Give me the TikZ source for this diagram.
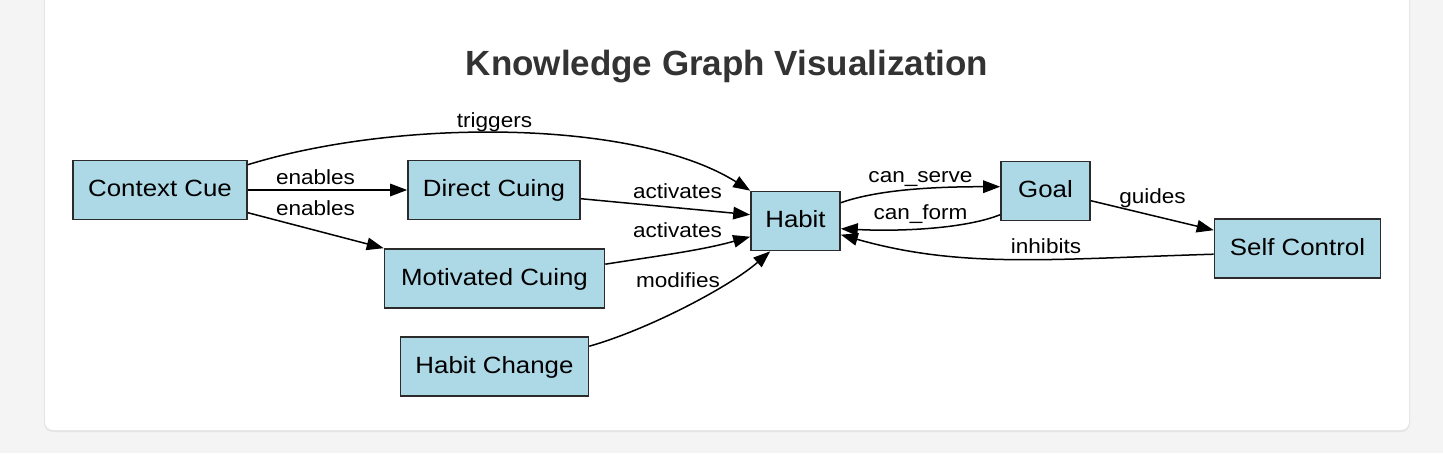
\documentclass[tikz,border=0pt]{standalone}
\usepackage{fontspec}
\setmainfont{Liberation Sans}
\newfontfamily\gfont[FakeStretch=1.1]{Liberation Sans}
\usetikzlibrary{arrows.meta,calc}
\definecolor{pagebg}{HTML}{F4F4F4}
\definecolor{shadowc}{HTML}{E4E4E4}
\definecolor{nodefill}{HTML}{ADD8E6}
\definecolor{nodeline}{HTML}{2B2B2B}
\definecolor{titlec}{HTML}{333333}
\begin{document}
\begin{tikzpicture}[x=1pt,y=-1pt,
  box/.style={draw=nodeline,fill=nodefill,line width=1.6pt,minimum height=59pt,inner sep=0pt,
    text height=16pt,text depth=3pt,font=\gfont\fontsize{23.5}{28}\selectfont},
  edge/.style={draw=black,line width=1.5pt,-{Triangle[length=17pt,width=12.5pt]}},
  elabel/.style={anchor=base,inner sep=0pt,font=\gfont\fontsize{20.5}{24}\selectfont}]
\useasboundingbox (0,0) rectangle (1443,453);
\fill[pagebg] (0,0) rectangle (1443,453);
\fill[shadowc,rounded corners=9pt] (44,-12) rectangle (1410,432);
\fill[white,rounded corners=8pt] (45,-12) rectangle (1409,430);
\node[anchor=base,text=titlec,font=\fontsize{35}{40}\selectfont\bfseries] (title) at (727,75) {Knowledge Graph Visualization};
% nodes
\node[box,minimum width=174pt] (cc) at (160,190) {Context Cue};
\node[box,minimum width=172pt] (dc) at (494,190) {Direct Cuing};
\node[box,minimum width=220pt] (mc) at (494.5,278.5) {Motivated Cuing};
\node[box,minimum width=188pt] (hc) at (494.5,366.5) {Habit Change};
\node[box,minimum width=89pt] (hb) at (795.5,221) {Habit};
\node[box,minimum width=89pt] (gl) at (1045.5,191) {Goal};
\node[box,minimum width=166pt] (sc) at (1297.5,248.5) {Self Control};
% edges
\draw[edge] (cc.east) -- (dc.west);
\draw[edge] ($(cc.north east)+(0,53)$) -- (mc.north west);
\draw[edge] ($(cc.north east)+(0,5)$) .. controls +(153,-47) and +(-113,-71) .. (hb.north west);
\draw[edge] ($(dc.north east)+(0,39)$) -- ($(hb.north west)+(0,24)$);
\draw[edge] ($(mc.north east)+(0,16)$) .. controls +(50,-8) and +(-50,14) .. ($(hb.north west)+(0,46)$);
\draw[edge] ($(hc.north east)+(0,10)$) .. controls +(60,-17) and +(-40,35) .. ($(hb.south west)+(20,0)$);
\draw[edge] ($(hb.north east)+(0,12)$) .. controls +(40,-14) and +(-60,0) .. ($(gl.north west)+(0,26)$);
\draw[edge] ($(gl.north west)+(0,54)$) .. controls +(-35,14) and +(60,3) .. ($(hb.north east)+(0,38)$);
\draw[edge] ($(sc.north west)+(0,36)$) .. controls +(-165,5) and +(120,34) .. ($(hb.north east)+(0,44)$);
\draw[edge] ($(gl.north east)+(0,40)$) -- ($(sc.north west)+(0,12)$);
% labels
\node[elabel] (l1) at (315.5,184) {enables};
\node[elabel] (l2) at (315.5,215) {enables};
\node[elabel] (l3) at (494.5,127.5) {triggers};
\node[elabel] (l4) at (677.5,198.5) {activates};
\node[elabel] (l5) at (677.5,237.5) {activates};
\node[elabel] (l6) at (678,287) {modifies};
\node[elabel] (l7) at (920.5,182) {can\_serve};
\node[elabel] (l8) at (920.5,219.5) {can\_form};
\node[elabel] (l9) at (1152.5,203.5) {guides};
\node[elabel] (l10) at (1046,253) {inhibits};
\end{tikzpicture}
\end{document}
